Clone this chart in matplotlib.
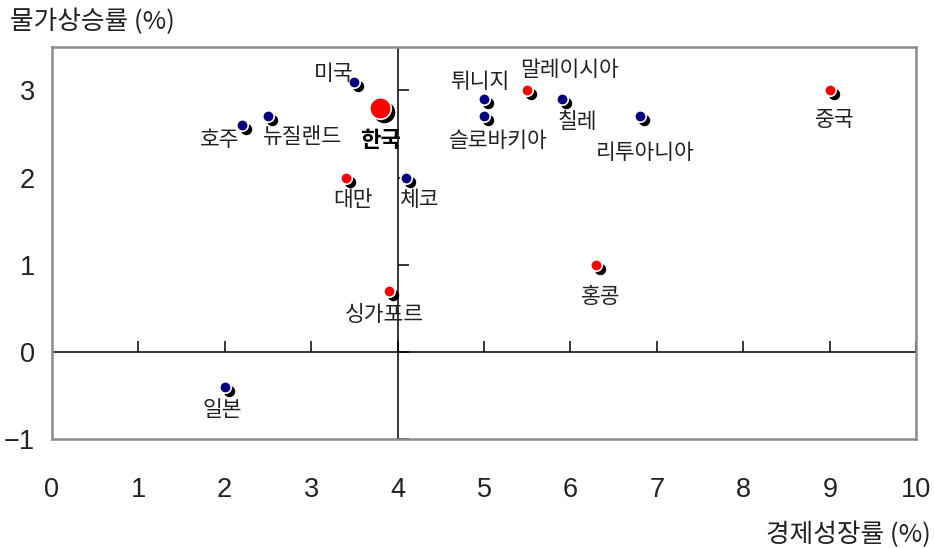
import matplotlib
matplotlib.use("Agg")
import matplotlib.pyplot as plt
import matplotlib.transforms as mtransforms
from matplotlib.markers import TICKUP, TICKRIGHT

plt.rcParams['font.family'] = ['Noto Sans CJK KR', 'DejaVu Sans']

countries = ['미국', '한국', '호주', '뉴질랜드', '대만', '체코', '싱가포르', '일본',
             '튀니지', '말레이시아', '칠레', '슬로바키아', '리투아니아', '중국', '홍콩']
growth = [3.5, 3.8, 2.2, 2.5, 3.4, 4.1, 3.9, 2.0, 5.0, 5.5, 5.9, 5.0, 6.8, 9.0, 6.3]
inflation = [3.1, 2.8, 2.6, 2.7, 2.0, 2.0, 0.7, -0.4, 2.9, 3.0, 2.9, 2.7, 2.7, 3.0, 1.0]
group = ['n', 'k', 'n', 'n', 'r', 'n', 'r', 'n', 'n', 'r', 'n', 'n', 'n', 'r', 'r']
label_offsets = [(-21, 8), (0, -33), (-22, -15), (35, -21), (7, -22), (13, -22), (-5, -24),
                 (-2, -23), (-4, 17), (42, 20), (16, -23), (14, -25), (6, -37), (5, -30), (4, -32)]

xticks = [0, 1, 2, 3, 4, 5, 6, 7, 8, 9, 10]
yticks = [-1, 0, 1, 2, 3]
xlabel = '경제성장률 (%)'
ylabel = '물가상승률 (%)'

color_map = {'n': '#000080', 'r': '#ff0000', 'k': '#ff0000'}
size_map = {'n': 68, 'r': 68, 'k': 240}

fig = plt.figure(figsize=(9.34, 5.48), dpi=100)
ax = fig.add_axes([0.0554, 0.198, 0.981 - 0.0554, 0.915 - 0.198])
ax.set_xlim(0, 10)
ax.set_ylim(-1, 3.5)

for sp in ax.spines.values():
    sp.set_color('#8c8c8c')
    sp.set_linewidth(1.8)

ax.set_xticks(xticks)
ax.set_yticks(yticks)
ax.tick_params(length=0)
ax.tick_params(axis='x', pad=27)
ax.tick_params(axis='y', pad=12)
for lab in ax.get_xticklabels() + ax.get_yticklabels():
    lab.set_fontfamily(['Liberation Sans', 'DejaVu Sans'])
    lab.set_fontsize(19.5)
    lab.set_color('#222222')

# inner axes
ax.axhline(0, color='black', lw=1.1, zorder=1)
ax.axvline(4, color='black', lw=1.1, zorder=1)
ax.plot(xticks, [0] * len(xticks), ls='none', marker=TICKUP, ms=8, mew=1.1, color='black', zorder=1)
ax.plot([4] * len(yticks), yticks, ls='none', marker=TICKRIGHT, ms=8, mew=1.1, color='black', zorder=1)

shadow = mtransforms.offset_copy(ax.transData, fig=fig, x=4, y=-4, units='dots')
for i in range(len(countries)):
    g = group[i]
    ax.scatter([growth[i]], [inflation[i]], s=size_map[g], color='black', transform=shadow,
               zorder=3, linewidths=0)
    ax.scatter([growth[i]], [inflation[i]], s=size_map[g], color=color_map[g],
               edgecolors='white', linewidths=1.2, zorder=4)
    ax.annotate(countries[i], (growth[i], inflation[i]), xytext=label_offsets[i],
                textcoords='offset pixels', ha='center', va='center',
                fontsize=16 if g == 'k' else 15.5,
                fontweight='bold' if g == 'k' else 'normal',
                color='black' if g == 'k' else '#222222', zorder=5)

fig.text(10 / 934, 1 - 22 / 548, ylabel, ha='left', va='center', fontsize=18.5, color='#222222')
fig.text(931 / 934, 1 - 535 / 548, xlabel, ha='right', va='center', fontsize=18.5, color='#222222')

fig.savefig('out.png', dpi=100)
